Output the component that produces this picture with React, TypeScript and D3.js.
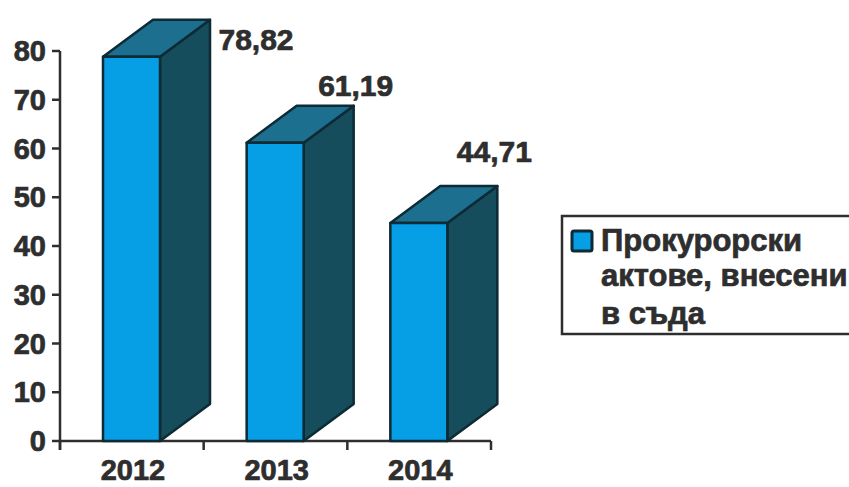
import React from 'react';
import * as d3 from 'd3';

const years = ['2012', '2013', '2014'];
const values = [78.82, 61.19, 44.71];
const valueLabels = ['78,82', '61,19', '44,71'];
const yTicks = [0, 10, 20, 30, 40, 50, 60, 70, 80];
const legendLines = ['Прокурорски', 'актове, внесени', 'в съда'];

const FONT = 'Liberation Sans, Arial, sans-serif';
const INK = '#2e2e2e';
const FRONT = '#069fe6';
const TOP = '#1d6f8f';
const SIDE = '#164d5c';
const EDGE = '#0d2a35';

// smeshchenie na 3D stenata
const depthX = 50;
const depthY = 37;
// etiketite ne sa na edno i sashto myasto spryamo kolonata
const labelOffsets = [[96, -7], [52, -47], [47, -61]];
const legendBaselines = [251, 286, 324];

export default function App() {
  const band = d3.scaleBand().domain(years).range([60, 491]);
  const y = d3.scaleLinear().domain([0, 80]).range([441, 51]);
  const barW = 57;
  const zero = y(0);

  return (
    <svg
      width={849}
      height={487}
      style={{ position: 'fixed', left: 0, top: 0, background: '#fff' }}
      fontFamily={FONT}
    >
      {/* osi */}
      <g stroke={INK} strokeWidth={2.5} fill="none">
        <line x1={60} x2={60} y1={y(80)} y2={zero + 9} />
        <line x1={60} x2={491} y1={zero} y2={zero} />
        {yTicks.map((t) => (
          <line key={t} x1={52} x2={60} y1={y(t)} y2={y(t)} />
        ))}
        {[...years.map((yr) => band(yr)!), 491].map((px, i) => (
          <line key={i} x1={px} x2={px} y1={zero} y2={zero + 9} />
        ))}
      </g>

      {yTicks.map((t) => (
        <text
          key={t}
          x={46}
          y={y(t) + 10}
          textAnchor="end"
          fontSize={29}
          fontWeight={700}
          fill={INK}
          stroke={INK}
          strokeWidth={0.7}
        >
          {t}
        </text>
      ))}

      {years.map((yr, i) => {
        const x0 = band(yr)! + 43;
        const x1 = x0 + barW;
        const top = y(values[i]);
        const topFace = d3.path();
        topFace.moveTo(x0, top);
        topFace.lineTo(x0 + depthX, top - depthY);
        topFace.lineTo(x1 + depthX, top - depthY);
        topFace.lineTo(x1, top);
        topFace.closePath();
        const sideFace = d3.path();
        sideFace.moveTo(x1, top);
        sideFace.lineTo(x1 + depthX, top - depthY);
        sideFace.lineTo(x1 + depthX, zero - depthY);
        sideFace.lineTo(x1, zero);
        sideFace.closePath();
        return (
          <g key={yr} stroke={EDGE} strokeWidth={2.5} strokeLinejoin="round">
            <path d={sideFace.toString()} fill={SIDE} />
            <path d={topFace.toString()} fill={TOP} />
            <rect x={x0} y={top} width={barW} height={zero - top} fill={FRONT} />
            <text
              x={x1 + labelOffsets[i][0]}
              y={top + labelOffsets[i][1]}
              textAnchor="middle"
              fontSize={30}
              fontWeight={700}
              fill={INK}
              stroke={INK}
              strokeWidth={0.7}
            >
              {valueLabels[i]}
            </text>
            <text
              x={band(yr)! + 73}
              y={zero + 39}
              textAnchor="middle"
              fontSize={29}
              fontWeight={700}
              fill={INK}
              stroke={INK}
              strokeWidth={0.7}
            >
              {yr}
            </text>
          </g>
        );
      })}

      {/* legenda */}
      <rect x={562} y={216} width={300} height={118} fill="#fff" stroke={INK} strokeWidth={2.5} />
      <rect x={572} y={231} width={20} height={20} rx={2} fill={FRONT} stroke={EDGE} strokeWidth={3} />
      {legendLines.map((line, i) => (
        <text
          key={line}
          x={601}
          y={legendBaselines[i]}
          fontSize={31}
          fontWeight={700}
          fill={INK}
          stroke={INK}
          strokeWidth={0.7}
        >
          {line}
        </text>
      ))}
    </svg>
  );
}
